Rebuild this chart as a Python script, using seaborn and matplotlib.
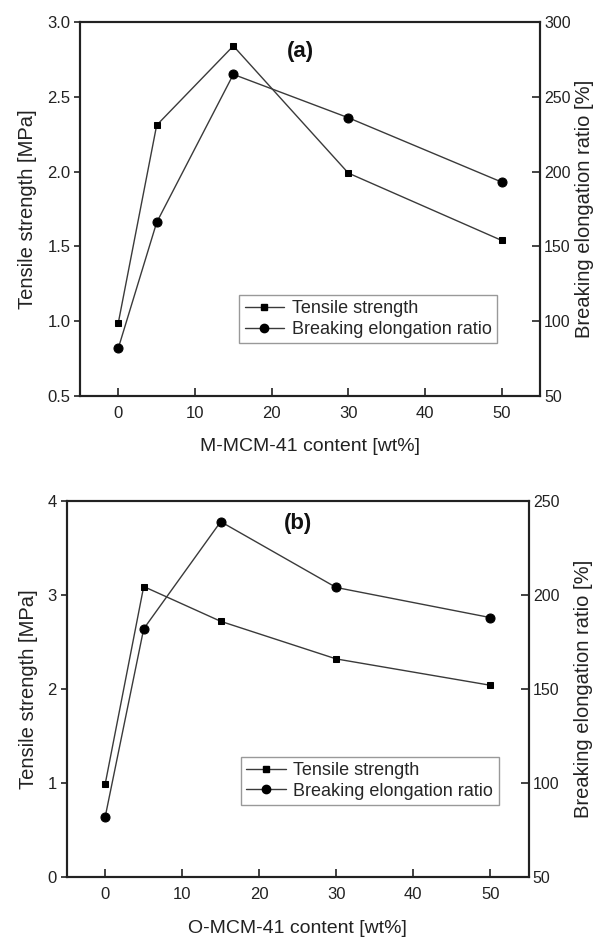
import matplotlib
matplotlib.use("Agg")
import matplotlib.pyplot as plt
import seaborn as sns
import pandas as pd
from matplotlib.lines import Line2D

# ---- data ----
content = [0, 5, 15, 30, 50]
tensile_a = [0.99, 2.31, 2.84, 1.99, 1.54]
elong_a = [82, 166, 265, 236, 193]
tensile_b = [0.99, 3.09, 2.72, 2.32, 2.04]
elong_b = [82, 182, 239, 204, 188]
xlabel_a = "M-MCM-41 content [wt%]"
xlabel_b = "O-MCM-41 content [wt%]"
ylabel_left = "Tensile strength [MPa]"
ylabel_right = "Breaking elongation ratio [%]"
legend_labels = ["Tensile strength", "Breaking elongation ratio"]

sns.set_style("ticks")
plt.rcParams['font.family'] = ['Liberation Sans', 'DejaVu Sans']

fig = plt.figure(figsize=(5.95, 9.39), dpi=100)

LINE_C = "#3a3a3a"
TXT_C = "#222222"
TICK_FS = 12
RTICK_FS = 11.5
XLABEL_FS = 14
YLABEL_FS = 14.5
LEG_FS = 13


def panel(rect, tensile, elong, xlabel, tag, yl_lim, yl_ticks, yl_fmt, yr_lim, yr_ticks,
          leg_anchor, tag_xy, ylab_left_x, ylab_right_x, xlab_y):
    ax = fig.add_axes(rect)
    df = pd.DataFrame({"x": content, "t": tensile, "e": elong})
    sns.lineplot(data=df, x="x", y="t", ax=ax, color=LINE_C, lw=1.0, marker="s",
                 markersize=5, markerfacecolor="black", markeredgecolor="black",
                 legend=False)
    ax2 = ax.twinx()
    sns.lineplot(data=df, x="x", y="e", ax=ax2, color=LINE_C, lw=1.0, marker="o",
                 markersize=6.5, markerfacecolor="black", markeredgecolor="black",
                 legend=False)
    ax.set_xlim(-5, 55)
    ax.set_ylim(*yl_lim)
    ax2.set_ylim(*yr_lim)
    ax.set_xticks([0, 10, 20, 30, 40, 50])
    ax.set_yticks(yl_ticks)
    ax.set_yticklabels([yl_fmt.format(v) for v in yl_ticks])
    ax2.set_yticks(yr_ticks)
    for a in (ax, ax2):
        for s in a.spines.values():
            s.set_linewidth(1.5)
            s.set_color(TXT_C)
            s.set_visible(True)
    ax.tick_params(axis="x", direction="in", length=6, width=1.2, pad=7,
                   labelsize=TICK_FS, top=False, colors=TXT_C)
    ax.tick_params(axis="y", direction="out", length=4, width=1.2, pad=3,
                   labelsize=TICK_FS, right=False, colors=TXT_C)
    ax2.tick_params(axis="y", direction="in", length=6, width=1.2, pad=3,
                    labelsize=RTICK_FS, colors=TXT_C)
    ax.set_xlabel(xlabel, fontsize=XLABEL_FS, color=TXT_C)
    ax.xaxis.set_label_coords(0.5, xlab_y)
    ax.set_ylabel(ylabel_left, fontsize=YLABEL_FS, color=TXT_C)
    ax.yaxis.set_label_coords(ylab_left_x, 0.5)
    ax2.set_ylabel(ylabel_right, fontsize=YLABEL_FS, color=TXT_C)
    ax2.yaxis.set_label_coords(ylab_right_x, 0.5)
    ax.text(tag_xy[0], tag_xy[1], tag, transform=ax.transAxes, fontsize=16,
            fontweight="bold", ha="center", va="center", color="#111111")
    handles = [
        Line2D([], [], color=LINE_C, lw=1.0, marker="s", markersize=5,
               markerfacecolor="black", markeredgecolor="black"),
        Line2D([], [], color=LINE_C, lw=1.0, marker="o", markersize=6,
               markerfacecolor="black", markeredgecolor="black"),
    ]
    leg = ax2.legend(handles, legend_labels, loc="upper left", bbox_to_anchor=leg_anchor,
                     bbox_transform=ax.transAxes, fontsize=LEG_FS, frameon=True,
                     fancybox=False, framealpha=1, edgecolor="#999999",
                     handlelength=2.2, handletextpad=0.4, labelspacing=0.2,
                     borderpad=0.3, borderaxespad=0)
    leg.get_frame().set_linewidth(1.0)
    return ax, ax2


panel([80/595, 1-396/939, 460/595, 374/939], tensile_a, elong_a, xlabel_a, "(a)",
      (0.5, 3.0), [0.5, 1.0, 1.5, 2.0, 2.5, 3.0], "{:.1f}", (50, 300),
      [50, 100, 150, 200, 250, 300], (0.346, 0.27), (0.48, 0.92), -0.093, 1.075, -0.112)

panel([66.7/595, 1-877/939, 462/595, 376/939], tensile_b, elong_b, xlabel_b, "(b)",
      (0, 4), [0, 1, 2, 3, 4], "{:.0f}", (50, 250),
      [50, 100, 150, 200, 250], (0.377, 0.32), (0.5, 0.939), -0.062, 1.099, -0.114)

fig.savefig("out.png", dpi=100)
